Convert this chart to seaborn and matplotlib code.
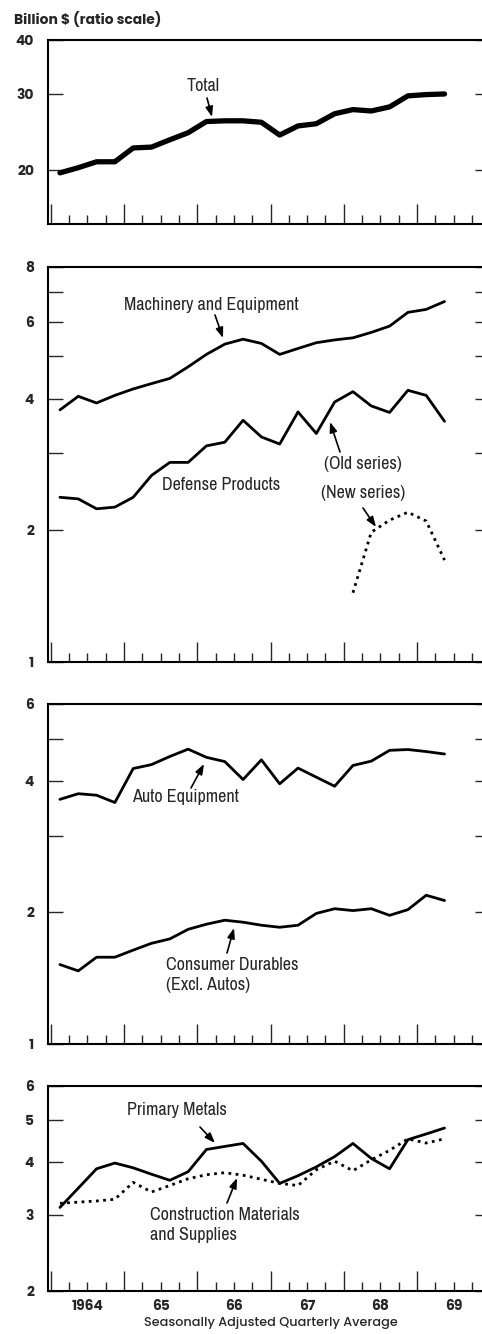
import pandas as pd
import seaborn as sns
import matplotlib.pyplot as plt
from matplotlib.ticker import FixedLocator, NullFormatter

# quarterly averages, Q1 1964 .. Q2 1969 (billion $)
quarters = ['1964Q1', '1964Q2', '1964Q3', '1964Q4', '1965Q1', '1965Q2', '1965Q3', '1965Q4',
            '1966Q1', '1966Q2', '1966Q3', '1966Q4', '1967Q1', '1967Q2', '1967Q3', '1967Q4',
            '1968Q1', '1968Q2', '1968Q3', '1968Q4', '1969Q1', '1969Q2']
total = [19.7, 20.25, 20.9, 20.9, 22.5, 22.6, 23.5, 24.4, 25.9, 26.0, 26.0,
         25.8, 24.1, 25.3, 25.6, 27.0, 27.6, 27.4, 28.0, 29.7, 29.9, 30.0]
machinery = [3.77, 4.05, 3.91, 4.07, 4.21, 4.33, 4.45, 4.73, 5.05, 5.33, 5.47,
             5.35, 5.05, 5.21, 5.37, 5.45, 5.51, 5.67, 5.86, 6.30, 6.40, 6.67]
defense_old = [2.38, 2.36, 2.24, 2.26, 2.38, 2.67, 2.86, 2.86, 3.12, 3.18, 3.57,
               3.27, 3.15, 3.73, 3.33, 3.93, 4.15, 3.85, 3.72, 4.18, 4.07, 3.55]
defense_new_quarters = ['1968Q1', '1968Q2', '1968Q3', '1968Q4', '1969Q1', '1969Q2']
defense_new = [1.44, 1.98, 2.11, 2.20, 2.10, 1.71]
auto = [3.63, 3.74, 3.71, 3.57, 4.27, 4.36, 4.55, 4.73, 4.53, 4.43, 4.03,
        4.47, 3.94, 4.28, 4.08, 3.89, 4.34, 4.44, 4.70, 4.72, 4.67, 4.61]
consumer = [1.52, 1.47, 1.58, 1.58, 1.64, 1.70, 1.74, 1.83, 1.88, 1.92, 1.90,
            1.87, 1.85, 1.87, 1.99, 2.04, 2.02, 2.04, 1.97, 2.03, 2.19, 2.13]
primary = [3.13, 3.47, 3.85, 3.97, 3.87, 3.74, 3.62, 3.79, 4.27, 4.34, 4.41,
           4.01, 3.56, 3.71, 3.89, 4.11, 4.41, 4.07, 3.85, 4.50, 4.64, 4.79]
construction = [3.20, 3.22, 3.24, 3.27, 3.58, 3.40, 3.52, 3.65, 3.73, 3.77, 3.72,
                3.64, 3.56, 3.52, 3.83, 4.01, 3.81, 4.04, 4.25, 4.52, 4.42, 4.52]
year_labels = ['1964', '65', '66', '67', '68', '69']


def to_year(q):
    return int(q[:4]) + (int(q[-1]) - 0.5) / 4


df = pd.DataFrame({'t': [to_year(q) for q in quarters], 'total': total,
                   'machinery': machinery, 'defense_old': defense_old, 'auto': auto,
                   'consumer': consumer, 'primary': primary,
                   'construction': construction})
df_new = pd.DataFrame({'t': [to_year(q) for q in defense_new_quarters],
                       'defense_new': defense_new})

sns.set_style('ticks')
plt.rcParams['font.family'] = ['Poppins', 'DejaVu Sans']
narrow = ['Archivo Narrow', 'Roboto Condensed', 'DejaVu Sans']

W, H = 482, 1334
fig = plt.figure(figsize=(W / 100, H / 100), dpi=100)


def box(top, bottom, left=48, right=490.3):
    return [left / W, 1 - bottom / H, (right - left) / W, (bottom - top) / H]


def fp(x, y):
    return (x, H - y)


panels = [
    (box(40, 224), (15, 40), [20, 30, 40], []),
    (box(267, 662), (1, 8), [1, 2, 4, 6, 8], [3, 5, 7]),
    (box(704, 1044), (1, 6), [1, 2, 4, 6], [3, 5]),
    (box(1086, 1291), (2, 6), [2, 3, 4, 5, 6], []),
]
axes = []
for rect, ylim, labelled, unlabelled in panels:
    ax = fig.add_axes(rect)
    ax.set_yscale('log')
    ax.set_ylim(*ylim)
    ax.set_xlim(1963.962, 1970.0)
    ax.set_yticks(labelled, [str(v) for v in labelled])
    ax.yaxis.set_minor_locator(FixedLocator(unlabelled))
    ax.yaxis.set_minor_formatter(NullFormatter())
    ax.set_xticks(range(1964, 1971), [''] * 7)
    ax.xaxis.set_minor_locator(FixedLocator([y + q / 4 for y in range(1964, 1970)
                                             for q in (1, 2, 3)]))
    ax.tick_params(axis='y', which='both', direction='in', length=10.8, width=1,
                   left=True, right=True, pad=10, labelsize=10)
    ax.tick_params(axis='x', which='major', direction='in', length=14.4, width=1,
                   bottom=True, top=False)
    ax.tick_params(axis='x', which='minor', direction='in', length=6.5, width=1,
                   bottom=True, top=False)
    for lab in ax.get_yticklabels():
        lab.set_fontweight('bold')
    for s in ax.spines.values():
        s.set_linewidth(1.5)
        s.set_color('black')
    axes.append(ax)

ax1, ax2, ax3, ax4 = axes
sns.lineplot(data=df, x='t', y='total', ax=ax1, color='black', lw=3.8, estimator=None)
sns.lineplot(data=df, x='t', y='machinery', ax=ax2, color='black', lw=2, estimator=None)
sns.lineplot(data=df, x='t', y='defense_old', ax=ax2, color='black', lw=2, estimator=None)
sns.lineplot(data=df_new, x='t', y='defense_new', ax=ax2, color='black', lw=2,
             estimator=None, linestyle=(0, (1, 1.6)))
sns.lineplot(data=df, x='t', y='auto', ax=ax3, color='black', lw=2, estimator=None)
sns.lineplot(data=df, x='t', y='consumer', ax=ax3, color='black', lw=2, estimator=None)
sns.lineplot(data=df, x='t', y='primary', ax=ax4, color='black', lw=2, estimator=None)
sns.lineplot(data=df, x='t', y='construction', ax=ax4, color='black', lw=2,
             estimator=None, linestyle=(0, (1, 1.6)))
for ax in axes:
    ax.set_xlabel('')
    ax.set_ylabel('')

for i, lbl in enumerate(year_labels):
    ax4.annotate(lbl, xy=(1964.5 + i, 0), xycoords=('data', 'axes fraction'),
                 xytext=(0, -16), textcoords='offset pixels', ha='center', va='center',
                 fontsize=10, fontweight='bold')
ax4.set_xlabel('Seasonally Adjusted Quarterly Average', fontsize=9.2, fontweight='medium',
               va='center')
ax4.xaxis.set_label_coords((271 - 48) / (490.3 - 48), -(1323 - 1291) / (1291 - 1086))

fig.text(14 / W, 1 - 20 / H, 'Billion $ (ratio scale)', fontsize=10, fontweight='bold',
         ha='left', va='center')

labels = [
    ('Total', (203, 86), 'center'),
    ('Machinery and Equipment', (211, 305), 'center'),
    ('Defense Products', (221, 485), 'center'),
    ('(Old series)', (363, 464), 'center'),
    ('(New series)', (363, 493), 'center'),
    ('Auto Equipment', (185, 797), 'center'),
    ('Consumer Durables\n(Excl. Autos)', (166, 975), 'left'),
    ('Primary Metals', (177, 1110), 'center'),
    ('Construction Materials\nand Supplies', (150, 1225), 'left'),
]
for text, (x, y), ha in labels:
    fig.text(x / W, 1 - y / H, text, family=narrow, fontsize=13, ha=ha, va='center',
             linespacing=1.25)

arrows = [
    ((207, 98), (212, 117)),
    ((215, 315), (223, 338)),
    ((340, 452), (330, 422)),
    ((363, 508), (376, 527)),
    ((191, 788), (204, 764)),
    ((227, 953), (234, 928)),
    ((200, 1127), (215, 1143)),
    ((227, 1203), (237, 1178)),
]
for tail, tip in arrows:
    fig.add_artist(plt.Annotation('', xy=fp(*tip), xycoords='figure pixels',
                                  xytext=fp(*tail), textcoords='figure pixels',
                                  arrowprops=dict(arrowstyle='-|>,head_length=0.6,head_width=0.22',
                                                  color='black', lw=1.2, shrinkA=0, shrinkB=0)))

fig.savefig('out.png', dpi=100)
